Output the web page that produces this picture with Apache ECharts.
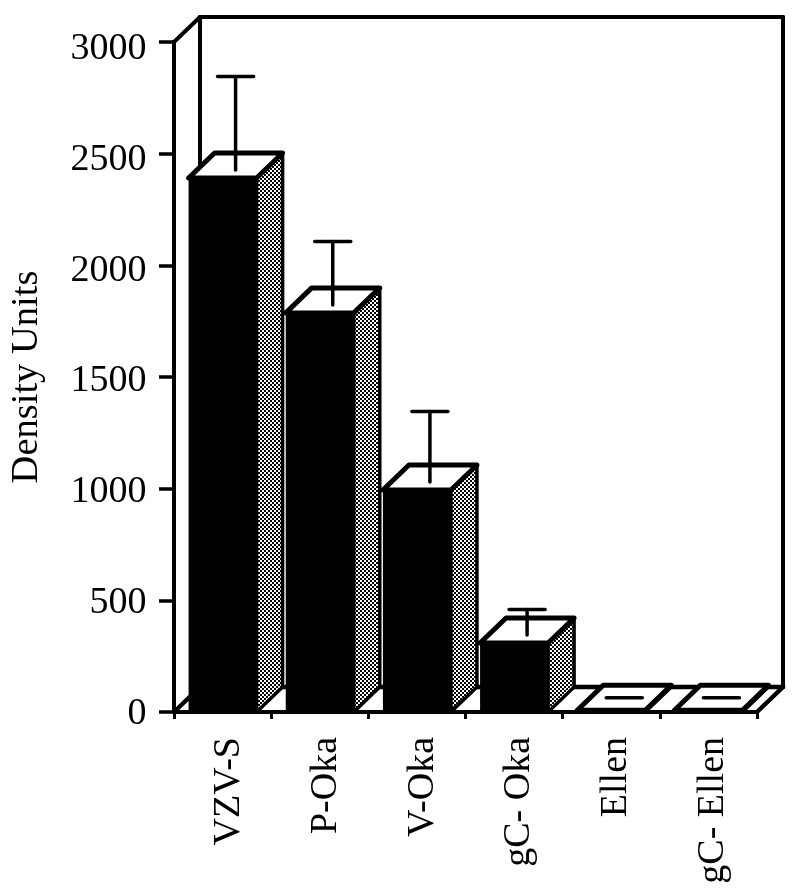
<!DOCTYPE html>
<html><head><meta charset="utf-8">
<style>html,body{margin:0;padding:0;background:#fff}#c{width:800px;height:889px}</style>
<script src="https://cdn.jsdelivr.net/npm/echarts@6/dist/echarts.min.js"></script>
</head><body><div id="c"></div>
<script>
const categories = ['VZV-S','P-Oka','V-Oka','gC- Oka','Ellen','gC- Ellen'];
const values = [2391,1787,994,309,8,8];
const errorTops = [2790,2051,1290,403,8,8];
const yMax = 3000, yStep = 500;

const DX = 26, DY = -25;
const ink = '#000';
const serif = '"Liberation Serif","Times New Roman",serif';

const tile = document.createElement('canvas');
tile.width = 4; tile.height = 4;
const t = tile.getContext('2d');
t.fillStyle = '#000'; t.fillRect(0,0,4,4);
t.fillStyle = '#fff'; t.fillRect(0,0,2,2); t.fillRect(2,2,2,2);
const dots = {image: tile, repeat: 'repeat'};

const line = (x1,y1,x2,y2,w) => ({type:'line',shape:{x1,y1,x2,y2},style:{stroke:ink,lineWidth:w,lineCap:'round'}});

function renderFrame(params, api){
  const o = api.coord([0,0]), tp = api.coord([0,yMax]);
  const band = api.size([1,0])[0];
  const x0 = o[0]-band/2, x1 = x0+band*categories.length, y0=o[1], y1=tp[1];
  return {type:'group',children:[
    line(x0,y1,x0+DX,y1+DY,4),
    line(x0+DX,y1+DY,x1+DX,y1+DY,4),
    line(x0+DX,y1+DY,x0+DX,y0+DY,4),
    line(x1+DX,y1+DY,x1+DX,y0+DY,4),
    line(x0+DX,y0+DY,x1+DX,y0+DY,4.5),
    line(x0,y0,x0+DX,y0+DY,4.5),
    line(x1,y0,x1+DX,y0+DY,4.5)
  ]};
}

function renderBar(params, api){
  const i = api.value(0), v = api.value(1), e = api.value(2);
  const top = api.coord([i,v]), base = api.coord([i,0]), errPt = api.coord([i,e]);
  const w = api.size([1,0])[0]*0.7;
  const l = top[0]-w/2, r = top[0]+w/2, yt = top[1], yb = base[1];
  const kids = [
    {type:'polygon',shape:{points:[[r,yt],[r+DX,yt+DY],[r+DX,yb+DY],[r,yb]]},
      style:{fill:dots,stroke:ink,lineWidth:3.5,lineJoin:'round'}},
    {type:'rect',shape:{x:l,y:yt,width:w,height:yb-yt},
      style:{fill:ink}},
    {type:'polygon',shape:{points:[[l,yt],[l+DX,yt+DY],[r+DX,yt+DY],[r,yt]]},
      style:{fill:'#fff',stroke:ink,lineWidth:5,lineJoin:'round'}}
  ];
  const cx = top[0]+DX/2, capY = errPt[1]+DY/2;
  if (e > v) kids.push(line(cx,yt-8,cx,capY,3.5));
  kids.push(line(cx-18,capY,cx+18,capY,3.5));
  return {type:'group',children:kids};
}

const chart = echarts.init(document.getElementById('c'),null,{renderer:'canvas'});
chart.setOption({
  animation:false,
  backgroundColor:'#fff',
  grid:[
    {left:174,width:583,top:42,height:670,outerBoundsMode:'none'},
    {left:180.5,width:581,top:49,height:665,outerBoundsMode:'none'}
  ],
  xAxis:[
    {type:'category',gridIndex:0,data:categories,
     axisLine:{lineStyle:{color:ink,width:4}},
     axisTick:{show:true,length:7,lineStyle:{color:ink,width:3}},
     axisLabel:{show:false}},
    {type:'category',gridIndex:1,data:categories,
     axisLine:{show:false},axisTick:{show:false},
     axisLabel:{rotate:90,margin:23,color:ink,fontFamily:serif,fontSize:38,interval:0}}
  ],
  yAxis:[
    {type:'value',gridIndex:0,min:0,max:yMax,interval:yStep,
     name:'Density Units',nameLocation:'middle',nameGap:128,nameRotate:90,
     nameTextStyle:{color:ink,fontFamily:serif,fontSize:38.5},
     splitLine:{show:false},
     axisLine:{show:true,lineStyle:{color:ink,width:4}},
     axisTick:{show:true,length:15,lineStyle:{color:ink,width:3.5}},
     axisLabel:{show:false}},
    {type:'value',gridIndex:1,min:0,max:yMax,interval:yStep,
     splitLine:{show:false},axisLine:{show:false},axisTick:{show:false},
     axisLabel:{margin:34,color:ink,fontFamily:serif,fontSize:38,formatter:v=>String(v)}}
  ],
  series:[
    {type:'custom',z:1,xAxisIndex:0,yAxisIndex:0,data:[[0,0]],renderItem:renderFrame,silent:true,clip:false},
    {type:'custom',z:2,xAxisIndex:0,yAxisIndex:0,data:categories.map((c,i)=>[i,values[i],errorTops[i]]),
     encode:{x:0,y:1},renderItem:renderBar,clip:false}
  ]
});
</script></body></html>
